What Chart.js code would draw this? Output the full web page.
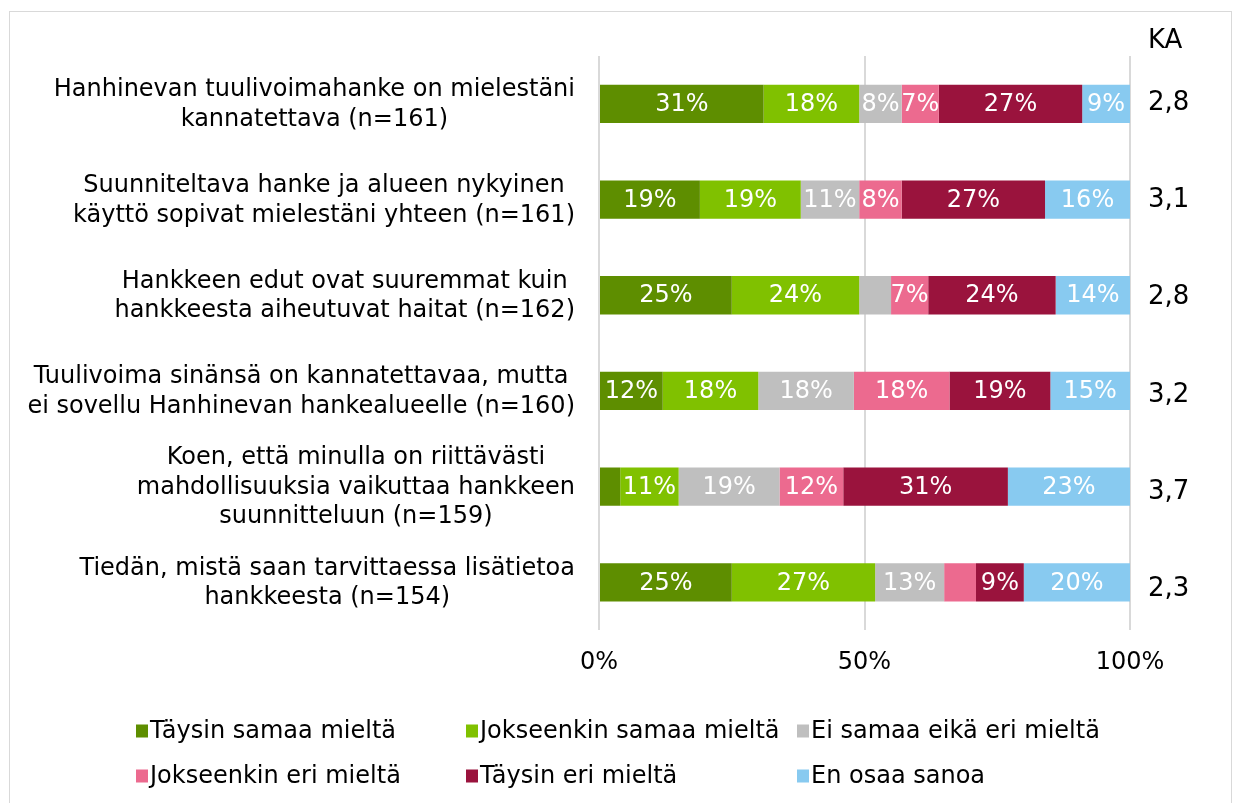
<!DOCTYPE html>
<html>
<head>
<meta charset="utf-8">
<script src="https://cdn.jsdelivr.net/npm/chart.js@4.4.1/dist/chart.umd.min.js"></script>
<style>
  html, body { margin: 0; padding: 0; background: #fff; }
  #wrap { position: relative; width: 1237px; height: 803px; overflow: hidden; }
  #frame { position: absolute; left: 9px; top: 11px; width: 1223px; height: 820px; border: 1px solid #D9D9D9; box-sizing: border-box; }
  canvas { position: absolute; left: 0; top: 0; }
</style>
</head>
<body>
<div id="wrap">
  <div id="frame"></div>
  <canvas id="c" width="1237" height="803"></canvas>
</div>
<script>
// ---- data ----
const categories = [
  ['Hanhinevan tuulivoimahanke on mielestäni', 'kannatettava (n=161)'],
  ['Suunniteltava hanke ja alueen nykyinen', 'käyttö sopivat mielestäni yhteen (n=161)'],
  ['Hankkeen edut ovat suuremmat kuin', 'hankkeesta aiheutuvat haitat (n=162)'],
  ['Tuulivoima sinänsä on kannatettavaa, mutta', 'ei sovellu Hanhinevan hankealueelle (n=160)'],
  ['Koen, että minulla on riittävästi', 'mahdollisuuksia vaikuttaa hankkeen', 'suunnitteluun (n=159)'],
  ['Tiedän, mistä saan tarvittaessa lisätietoa', 'hankkeesta (n=154)']
];
const seriesNames = ['Täysin samaa mieltä', 'Jokseenkin samaa mieltä', 'Ei samaa eikä eri mieltä',
                     'Jokseenkin eri mieltä', 'Täysin eri mieltä', 'En osaa sanoa'];
const taysinSamaa     = [31, 19, 25, 12, 4, 25];
const jokseenkinSamaa = [18, 19, 24, 18, 11, 27];
const eiSamaaEiEri    = [8, 11, 6, 18, 19, 13];
const jokseenkinEri   = [7, 8, 7, 18, 12, 6];
const taysinEri       = [27, 27, 24, 19, 31, 9];
const enOsaa          = [9, 16, 14, 15, 23, 20];
const kaValues        = [2.8, 3.1, 2.8, 3.2, 3.7, 2.3];
const kaTitle = 'KA';
const xTicks = [0, 50, 100];

const colors = ['#5E8E00', '#80C100', '#BFBFBF', '#EC6A8F', '#9A133D', '#88CAF0'];
const seriesData = [taysinSamaa, jokseenkinSamaa, eiSamaaEiEri, jokseenkinEri, taysinEri, enOsaa];

const FONT = '"DejaVu Sans", Verdana, sans-serif';

const datasets = seriesData.map((d, i) => ({
  label: seriesNames[i],
  data: d,
  backgroundColor: colors[i],
  borderWidth: 0,
  categoryPercentage: 1.0,
  barPercentage: 0.4
}));

const customDraw = {
  id: 'customDraw',
  afterDatasetsDraw(chart) {
    const ctx = chart.ctx;
    ctx.save();
    ctx.font = '24px ' + FONT;
    ctx.fillStyle = '#FFFFFF';
    ctx.textAlign = 'center';
    ctx.textBaseline = 'middle';
    chart.data.datasets.forEach((ds, di) => {
      const meta = chart.getDatasetMeta(di);
      meta.data.forEach((bar, i) => {
        const v = ds.data[i];
        if (v < 7) return;
        const p = bar.getProps(['x', 'y', 'base'], true);
        ctx.fillText(Math.round(v) + '%', (p.x + p.base) / 2, p.y + 1);
      });
    });
    ctx.restore();
  },
  afterDraw(chart) {
    const ctx = chart.ctx;
    const yScale = chart.scales.y;
    const area = chart.chartArea;
    // category labels: block right-aligned, lines centered within block
    ctx.save();
    ctx.font = '24px ' + FONT;
    ctx.fillStyle = '#000000';
    ctx.textAlign = 'center';
    ctx.textBaseline = 'middle';
    const lineH = 29.5;
    const rightEdge = area.left - 24;
    categories.forEach((lines, i) => {
      const yc = yScale.getPixelForValue(i);
      const maxW = Math.max(...lines.map(l => ctx.measureText(l).width));
      const cx = rightEdge - maxW / 2;
      const y0 = yc - (lines.length - 1) * lineH / 2 + 1;
      lines.forEach((l, k) => ctx.fillText(l, cx, y0 + k * lineH));
    });
    ctx.restore();

    // KA column
    ctx.save();
    ctx.font = '26px ' + FONT;
    ctx.fillStyle = '#000000';
    ctx.textAlign = 'left';
    ctx.textBaseline = 'middle';
    const kaX = area.right + 18;
    ctx.fillText(kaTitle, kaX, 41);
    kaValues.forEach((v, i) => {
      const yc = yScale.getPixelForValue(i);
      ctx.fillText(v.toFixed(1).replace('.', ','), kaX, yc - 1 + i * 1.6);
    });
    ctx.restore();

    // legend (3 columns x 2 rows)
    ctx.save();
    ctx.font = '24px ' + FONT;
    ctx.textAlign = 'left';
    ctx.textBaseline = 'middle';
    const colX = [136, 466, 797];
    const rowY = [731, 776];
    chart.data.datasets.forEach((ds, i) => {
      const x = colX[i % 3], y = rowY[Math.floor(i / 3)];
      ctx.fillStyle = ds.backgroundColor;
      ctx.fillRect(x, y - 6.5, 12, 13);
      ctx.fillStyle = '#000000';
      ctx.fillText(ds.label, x + 14, y + 1);
    });
    ctx.restore();
  }
};

new Chart(document.getElementById('c'), {
  type: 'bar',
  data: { labels: categories.map(c => c.join(' ')), datasets },
  options: {
    indexAxis: 'y',
    responsive: false,
    animation: false,
    layout: { padding: { left: 591, right: 107, top: 56, bottom: 108 } },
    plugins: {
      legend: { display: false },
      tooltip: { enabled: false },
      title: { display: false }
    },
    scales: {
      x: {
        stacked: true,
        min: 0,
        max: 100,
        afterBuildTicks(axis) { axis.ticks = xTicks.map(v => ({ value: v })); },
        ticks: {
          font: { family: FONT, size: 24 },
          color: '#000000',
          padding: 18,
          callback: v => v + '%'
        },
        grid: { color: '#D9D9D9', lineWidth: 2, drawTicks: false },
        border: { display: false }
      },
      y: {
        stacked: true,
        ticks: { display: false },
        grid: { display: false },
        border: { display: false }
      }
    }
  },
  plugins: [customDraw]
});
</script>
</body>
</html>
